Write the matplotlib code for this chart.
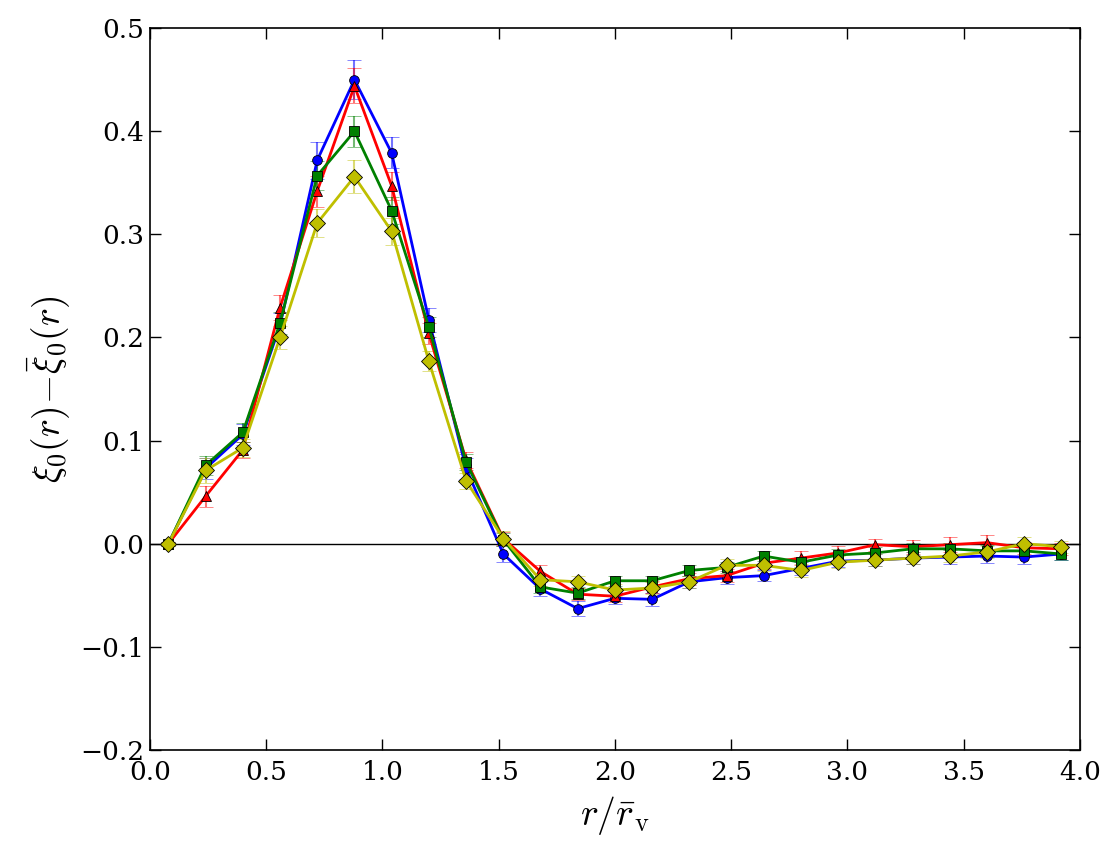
import matplotlib
matplotlib.use("Agg")
import matplotlib.pyplot as plt
import numpy as np

plt.rcParams['font.family'] = ['DejaVu Serif']
plt.rcParams['mathtext.fontset'] = 'cm'

r = [0.08, 0.24, 0.40, 0.56, 0.72, 0.88, 1.04, 1.20, 1.36, 1.52, 1.68, 1.84, 2.00,
     2.16, 2.32, 2.48, 2.64, 2.80, 2.96, 3.12, 3.28, 3.44, 3.60, 3.76, 3.92]

blue = [0.0, 0.073, 0.106, 0.212, 0.372, 0.450, 0.379, 0.217, 0.073, -0.010, -0.044,
        -0.063, -0.053, -0.054, -0.037, -0.033, -0.031, -0.024, -0.017, -0.016, -0.014,
        -0.013, -0.012, -0.013, -0.010]
blue_err = [0.002, 0.010, 0.010, 0.012, 0.018, 0.019, 0.015, 0.012, 0.010, 0.008, 0.007,
            0.007, 0.006, 0.006, 0.006, 0.006, 0.005, 0.006, 0.006, 0.006, 0.006,
            0.007, 0.007, 0.007, 0.006]

red = [0.0, 0.046, 0.091, 0.229, 0.342, 0.444, 0.347, 0.204, 0.081, 0.005, -0.027,
       -0.049, -0.051, -0.042, -0.034, -0.031, -0.019, -0.014, -0.009, -0.001, -0.003,
       -0.001, 0.001, -0.004, -0.005]
red_err = [0.002, 0.010, 0.008, 0.012, 0.015, 0.017, 0.014, 0.010, 0.008, 0.006, 0.006,
           0.006, 0.006, 0.006, 0.006, 0.006, 0.006, 0.007, 0.007, 0.006, 0.007,
           0.007, 0.007, 0.006, 0.006]

green = [0.0, 0.076, 0.108, 0.214, 0.357, 0.400, 0.323, 0.210, 0.079, 0.004, -0.042,
         -0.048, -0.036, -0.036, -0.026, -0.023, -0.012, -0.018, -0.011, -0.009, -0.005,
         -0.005, -0.007, -0.007, -0.010]
green_err = [0.002, 0.009, 0.009, 0.011, 0.014, 0.015, 0.013, 0.010, 0.008, 0.006, 0.006,
             0.006, 0.005, 0.005, 0.005, 0.005, 0.005, 0.005, 0.006, 0.006, 0.006,
             0.006, 0.006, 0.006, 0.006]

yellow = [0.0, 0.071, 0.093, 0.200, 0.311, 0.356, 0.303, 0.177, 0.061, 0.005, -0.035,
          -0.037, -0.045, -0.043, -0.037, -0.021, -0.021, -0.026, -0.018, -0.016, -0.014,
          -0.012, -0.008, 0.000, -0.003]
yellow_err = [0.002, 0.012, 0.009, 0.011, 0.014, 0.016, 0.013, 0.010, 0.008, 0.007, 0.006,
              0.006, 0.006, 0.006, 0.006, 0.006, 0.006, 0.006, 0.006, 0.006, 0.006,
              0.006, 0.006, 0.006, 0.006]

fig = plt.figure(figsize=(11.18, 8.55), dpi=100)
ax = fig.add_axes([0.134, 0.123, 0.832, 0.844])

ax.axhline(0, color='k', lw=1, zorder=1)

series = [
    (blue, blue_err, 'b', 'o', 7),
    (red, red_err, 'r', '^', 7),
    (green, green_err, 'g', 's', 7),
    (yellow, yellow_err, 'y', 'D', 8),
]
for vals, err, c, m, ms in series:
    ax.errorbar(r, vals, yerr=err, color=c, ecolor=c, elinewidth=1.5, capsize=5,
                capthick=1.5, lw=2, marker=m, ms=ms, mec='k', mew=0.6, mfc=c, zorder=3)
for coll in ax.collections:
    coll.set_alpha(0.55)
for ln in ax.lines:
    if ln.get_marker() == '_':
        ln.set_alpha(0.55)

xt = np.arange(0, 4.01, 0.5)
yt = np.arange(-0.2, 0.501, 0.1)
ax.set_xlim(0, 4)
ax.set_ylim(-0.2, 0.5)
ax.set_xticks(xt)
ax.set_yticks(yt)
ax.set_xticklabels([f"{v:.1f}" for v in xt])
ax.set_yticklabels([f"{v:.1f}".replace('-', '\u2212') for v in yt])
ax.tick_params(direction='in', top=True, right=True, length=8, width=1, labelsize=19)
ax.tick_params(axis='x', pad=7)
ax.tick_params(axis='y', pad=4)
for s in ax.spines.values():
    s.set_linewidth(1.2)

ax.set_xlabel(r'$r/\bar{r}_{\rm v}$', fontsize=27, labelpad=7)
ax.set_ylabel(r'$\xi_0(r)\!-\!\bar{\xi}_0(r)$', fontsize=27, labelpad=6)

fig.savefig('out.png', dpi=100)
